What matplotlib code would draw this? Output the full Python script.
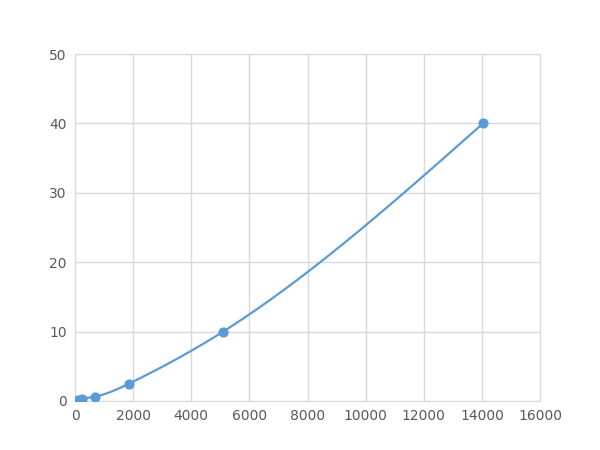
import numpy as np
import matplotlib
matplotlib.use("Agg")
import matplotlib.pyplot as plt

x_vals = [100, 250, 690, 1860, 5100, 14040]
y_vals = [0.156, 0.312, 0.625, 2.5, 10, 40]
x_ticks = [0, 2000, 4000, 6000, 8000, 10000, 12000, 14000, 16000]
y_ticks = [0, 10, 20, 30, 40, 50]

color = "#5B9BD5"
fig = plt.figure(figsize=(6, 4.5), dpi=100)
ax = fig.add_axes([0.125, 0.109, 0.775, 0.771])
ax.set_xlim(0, 16000)
ax.set_ylim(0, 50)

# natural cubic spline y(x) through the points
x = np.array(x_vals, float)
y = np.array(y_vals, float)
n = len(x)
h = np.diff(x)
A = np.zeros((n, n))
r = np.zeros(n)
A[0, 0] = A[-1, -1] = 1
for i in range(1, n - 1):
    A[i, i - 1] = h[i - 1]
    A[i, i] = 2 * (h[i - 1] + h[i])
    A[i, i + 1] = h[i]
    r[i] = 3 * ((y[i + 1] - y[i]) / h[i] - (y[i] - y[i - 1]) / h[i - 1])
c = np.linalg.solve(A, r)
xs_all, ys_all = [], []
for i in range(n - 1):
    b = (y[i + 1] - y[i]) / h[i] - h[i] * (2 * c[i] + c[i + 1]) / 3
    d = (c[i + 1] - c[i]) / (3 * h[i])
    t = np.linspace(0, h[i], 80)
    xs_all.append(x[i] + t)
    ys_all.append(y[i] + b * t + c[i] * t ** 2 + d * t ** 3)
xs = np.concatenate(xs_all)
ys = np.concatenate(ys_all)
ax.plot(xs, ys, color=color, lw=1.6, zorder=3)
ax.scatter(x_vals, y_vals, s=40, color=color, zorder=4)

ax.set_xticks(x_ticks)
ax.set_yticks(y_ticks)
ax.grid(True, color="#d9d9d9", lw=1)
ax.set_axisbelow(True)
for s in ax.spines.values():
    s.set_color("#d9d9d9")
ax.tick_params(length=0, labelsize=10, colors="#595959", pad=6)
fig.savefig("out.png")
